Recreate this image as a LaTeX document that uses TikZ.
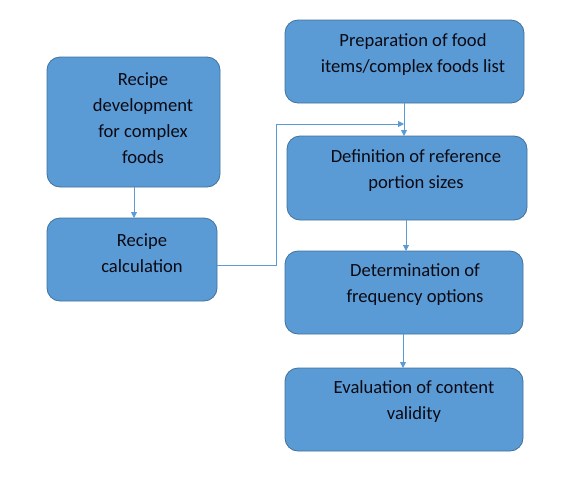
\documentclass[tikz,border=0pt]{standalone}
\usepackage{fontspec}
\setmainfont{Carlito}
\usetikzlibrary{arrows.meta,calc}
\definecolor{boxfill}{HTML}{5B9BD5}
\definecolor{boxline}{HTML}{41719C}
\definecolor{txt}{HTML}{0A0A14}
\tikzset{
  box/.style={draw=boxline, line width=0.8pt, fill=boxfill, rounded corners=13pt},
  lbl/.style={text=txt, align=center, font=\fontsize{18.6}{26}\selectfont, inner sep=0pt},
  conn/.style={draw=boxfill, line width=0.9pt, -{Triangle[width=6pt,length=6pt]}}
}
\begin{document}
\begin{tikzpicture}[x=1pt,y=-1pt]
\useasboundingbox (0,0) rectangle (573,477);
% boxes
\path[box] (47,57) rectangle (220,187);
\path[box] (47,218) rectangle (217,301);
\path[box] (285,20) rectangle (524,103);
\path[box] (287,136) rectangle (527,220);
\path[box] (285,251) rectangle (523,334);
\path[box] (285,368) rectangle (523,451);
% texts
\node[lbl] (t1) at (143,118.5) {Recipe\\development\\for complex\\foods};
\node[lbl] (t2) at (142,253.5) {Recipe\\calculation};
\node[lbl] (t3) at (413,55) {Preparation of food\\items/complex foods list};
\node[lbl] (t4) at (416,170.5) {Definition of reference\\portion sizes};
\node[lbl] (t5) at (415,285) {Determination of\\frequency options};
\node[lbl] (t6) at (414,402) {Evaluation of content\\validity};
% connector anchor points
\coordinate (b1s) at (134,187);
\coordinate (b2n) at (134,218);
\coordinate (b2e) at (217,265);
\coordinate (k1) at (276,265);
\coordinate (k2) at (276,124);
\coordinate (j) at (404,124);
\coordinate (b3s) at (404,103);
\coordinate (b4n) at (404,136);
\coordinate (b4s) at (406,220);
\coordinate (b5n) at (406,251);
\coordinate (b5s) at (403,334);
\coordinate (b6n) at (403,368);
% connectors
\draw[conn] (b1s) -- (b2n);
\draw[conn] (b2e) -- (k1) -- (k2) -- (j);
\draw[conn] (b3s) -- (b4n);
\draw[conn] (b4s) -- (b5n);
\draw[conn] (b5s) -- (b6n);
\end{tikzpicture}
\end{document}
